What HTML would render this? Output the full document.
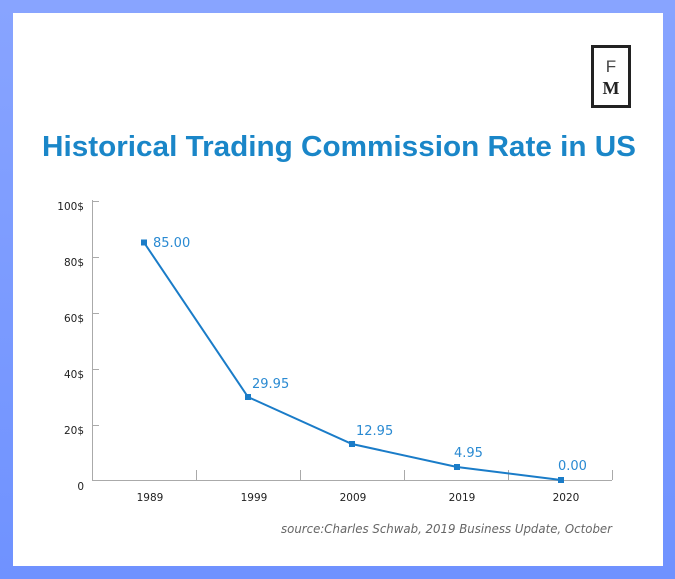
<!DOCTYPE html>
<html><head><meta charset="utf-8"><style>
html,body{margin:0;padding:0}
body{width:675px;height:579px;background:linear-gradient(#88a4ff,#6f92ff);position:relative;overflow:hidden;font-family:"Liberation Sans",sans-serif}
#panel{position:absolute;left:13px;top:13px;width:650px;height:553px;background:#fff}
#logo{position:absolute;left:591px;top:45px;width:34px;height:57px;border:3px solid #222;background:#fff}
</style></head><body>
<div id="panel"></div>
<div id="logo">
<div style="position:absolute;left:0;width:34px;top:9px;text-align:center;font:300 17px 'Liberation Sans',sans-serif;color:#444">F</div>
<div style="position:absolute;left:0;width:34px;top:30px;text-align:center;font:bold 18px 'Liberation Serif',serif;color:#222">M</div>
</div>
<svg width="675" height="579" style="position:absolute;left:0;top:0">
<text x="42" y="156" textLength="594" lengthAdjust="spacingAndGlyphs" font-family="Liberation Sans, sans-serif" font-weight="bold" font-size="29" fill="#1a86c8">Historical Trading Commission Rate in US</text>
<g stroke="#aaa" stroke-width="1" fill="none">
<line x1="92.5" y1="200" x2="92.5" y2="480"/>
<line x1="92" y1="480.5" x2="612" y2="480.5"/>
<line x1="92" y1="201.5" x2="99" y2="201.5"/>
<line x1="92" y1="257.5" x2="99" y2="257.5"/>
<line x1="92" y1="313.5" x2="99" y2="313.5"/>
<line x1="92" y1="369.5" x2="99" y2="369.5"/>
<line x1="92" y1="425.5" x2="99" y2="425.5"/>
<line x1="196.5" y1="470" x2="196.5" y2="480"/>
<line x1="300.5" y1="470" x2="300.5" y2="480"/>
<line x1="404.5" y1="470" x2="404.5" y2="480"/>
<line x1="508.5" y1="470" x2="508.5" y2="480"/>
<line x1="612.5" y1="470" x2="612.5" y2="480"/>
</g>
<g font-family="DejaVu Sans, sans-serif" font-size="10.5" fill="#222" text-anchor="end">
<text x="84" y="210">100$</text>
<text x="84" y="266">80$</text>
<text x="84" y="322">60$</text>
<text x="84" y="378">40$</text>
<text x="84" y="434">20$</text>
<text x="84" y="490">0</text>
</g>
<g font-family="DejaVu Sans, sans-serif" font-size="10.5" fill="#222" text-anchor="middle">
<text x="150" y="501">1989</text>
<text x="254" y="501">1999</text>
<text x="353" y="501">2009</text>
<text x="462" y="501">2019</text>
<text x="566" y="501">2020</text>
</g>
<polyline points="144,242.5 248,397 352,444 457,467 561,480" fill="none" stroke="#1a7cc8" stroke-width="2"/>
<g fill="#1a7cc8">
<rect x="141" y="239.5" width="6" height="6"/>
<rect x="245" y="394" width="6" height="6"/>
<rect x="349" y="441" width="6" height="6"/>
<rect x="454" y="464" width="6" height="6"/>
<rect x="558" y="477" width="6" height="6"/>
</g>
<g font-family="DejaVu Sans, sans-serif" font-size="13" fill="#2a8ad2">
<text x="153" y="247">85.00</text>
<text x="252" y="388">29.95</text>
<text x="356" y="435">12.95</text>
<text x="454" y="457">4.95</text>
<text x="558" y="470">0.00</text>
</g>
<text x="281" y="533" textLength="331" lengthAdjust="spacingAndGlyphs" font-family="DejaVu Sans, sans-serif" font-style="italic" font-size="12.5" fill="#666">source:Charles Schwab,  2019 Business Update, October</text>
</svg>
</body></html>
